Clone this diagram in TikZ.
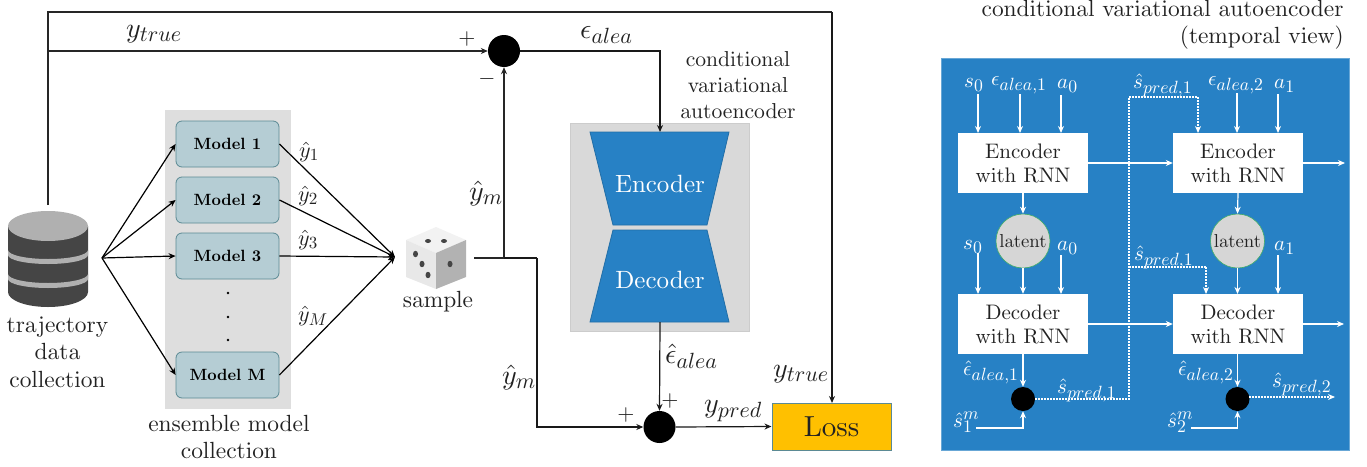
\documentclass[tikz,border=0pt]{standalone}
\usetikzlibrary{arrows.meta}
\DeclareFontShape{OML}{cmm}{m}{it}{<->cmmi10}{\skewchar\font127 }
\DeclareFontShape{OMS}{cmsy}{m}{n}{<->cmsy10}{\skewchar\font48 }
\DeclareFontShape{OT1}{cmr}{m}{n}{<->cmr10}{}
\DeclareFontShape{OT1}{cmr}{bx}{n}{<->cmbx10}{}
\renewcommand{\encodingdefault}{OT1}
\renewcommand{\rmdefault}{cmr}
\DeclareMathSizes{28}{28}{22}{17}
\DeclareMathSizes{22}{22}{17}{13}
\DeclareMathSizes{21}{21}{17.7}{13}
\definecolor{panelblue}{HTML}{2781C5}
\definecolor{modelfill}{HTML}{B5CDD4}
\definecolor{modeledge}{HTML}{5B8A94}
\definecolor{dbdark}{HTML}{454545}
\definecolor{dbgrey}{HTML}{B0B0B0}
\definecolor{ink}{HTML}{222222}
\definecolor{lossfill}{HTML}{FFC000}
\newcommand{\fsz}[1]{\fontsize{#1}{#1}\selectfont}
\tikzset{
  arrowtip/.style={-{Stealth[length=7pt,width=6pt]}},
  wire/.style={line width=1.2pt,black!90},
  hwire/.style={line width=1.7pt,black!85},
  fan/.style={line width=1.2pt,black,arrowtip},
  wwire/.style={line width=1.2pt,white,arrowtip},
  wdot/.style={line width=1.5pt,white,dash pattern=on 1.5pt off 1.5pt},
  model/.style={draw=modeledge,fill=modelfill,rounded corners=6pt,minimum width=103pt,minimum height=46pt,line width=.8pt,inner sep=0pt,font=\fsz{16.3}\bfseries},
  sumdot/.style={circle,fill=black,inner sep=0pt},
  wbox/.style={fill=white,minimum width=130pt,minimum height=60pt,inner sep=0pt,align=center,font=\fsz{21},text=ink},
  latentc/.style={circle,fill=black!16,draw=modeledge!70!green,line width=.6pt,minimum size=54pt,inner sep=0pt,font=\fsz{18.7},text=ink},
  lbl/.style={anchor=base west,inner sep=0pt,text=ink,font=\fsz{28}},
  slbl/.style={anchor=base west,inner sep=0pt,text=ink,font=\fsz{22}},
  plbl/.style={anchor=base west,inner sep=0pt,text=white,font=\fsz{21}},
  signtxt/.style={inner sep=0pt,text=ink,font=\fsz{22}},
  captxt/.style={inner sep=0pt,align=center,text=ink,font=\fsz{23.4}},
}
\begin{document}
\begin{tikzpicture}[x=1pt,y=-1pt]
\useasboundingbox (0,0) rectangle (1367,466);
% ---- backgrounds
\fill[black!13] (165,110) rectangle (291,409);
\fill[black!15,draw=black!20,line width=.8pt] (570,123) rectangle (749,331);
\fill[panelblue,draw=panelblue!70!white,line width=.8pt] (941,58) rectangle (1349,450);
% ---- database
\fill[dbdark] (8,226) -- (8,292) arc[start angle=180,end angle=0,x radius=40,y radius=15] -- (88,226) -- cycle;
\fill[dbgrey] (8,250) arc[start angle=180,end angle=0,x radius=40,y radius=9] -- (88,255) arc[start angle=0,end angle=180,x radius=40,y radius=9] -- cycle;
\fill[dbgrey] (8,274) arc[start angle=180,end angle=0,x radius=40,y radius=9] -- (88,279) arc[start angle=0,end angle=180,x radius=40,y radius=9] -- cycle;
\fill[dbgrey] (48,226) ellipse[x radius=40,y radius=15];
% ---- die
\fill[black!5] (406,240) -- (436,227) -- (466,240) -- (436,253) -- cycle;
\fill[black!9] (406,240) -- (436,253) -- (436,289) -- (406,277) -- cycle;
\fill[black!30] (466,240) -- (436,253) -- (436,289) -- (466,277) -- cycle;
\foreach \px/\py/\rx/\ry in {428/241/3/2,444/241/3/2,415.5/254/2.5/3.2,422/264/2.5/3.2,428/275/2.5/3.2,450/264/2.5/3.2}
  \fill[dbdark] (\px,\py) ellipse[x radius=\rx,y radius=\ry];
% ---- trapezia
\fill[panelblue,draw=panelblue!85!black,line width=.8pt] (590,132) -- (729,132) -- (707,225) -- (613,225) -- cycle;
\fill[panelblue,draw=panelblue!85!black,line width=.8pt] (613,230) -- (707,230) -- (729,322) -- (590,322) -- cycle;
\node[text=white,inner sep=0pt,font=\fsz{25}] (enc) at (660,184) {Encoder};
\node[text=white,inner sep=0pt,font=\fsz{25}] (dec) at (660,280) {Decoder};
\coordinate (enctop) at (660,132);
\coordinate (decbot) at (660,322);
% ---- models
\node[model] (m1) at (227.5,144) {Model 1};
\node[model] (m2) at (227.5,200) {Model 2};
\node[model] (m3) at (227.5,256) {Model 3};
\node[model] (mM) at (227.5,375) {Model M};
\foreach \py in {293,317,340}
  \fill[black] (228,\py) circle[radius=1.4];
% ---- sum nodes and loss
\node[sumdot,minimum size=32pt] (s1) at (504,51) {};
\node[sumdot,minimum size=32pt] (s2) at (659.5,427) {};
\node[draw=modeledge,fill=lossfill,line width=1pt,minimum width=119pt,minimum height=47pt,inner sep=0pt,font=\fsz{29},text=ink] (loss) at (831.5,426.5) {Loss};
% ---- free ends
\coordinate (dbtop) at (48,205);
\coordinate (src) at (102,258);
\coordinate (mrg) at (395,257);
\coordinate (smp) at (474,258);
\coordinate (jn) at (504,258);
\coordinate (tr) at (48,51);
% ---- main wires
\draw[hwire] (dbtop) -- (48,12) -- (832,12);
\draw[wire,arrowtip] (832,12) -- (832,403);
\draw[hwire,arrowtip] (tr) -- (s1.west);
\draw[hwire,arrowtip] (jn) -- (s1.south);
\draw[hwire] (smp) -- (jn);
\draw[wire] (jn) -- (537,258);
\draw[wire,arrowtip] (537,258) -- (537,427) -- (s2.west);
\draw[wire,arrowtip] (s1.east) -- (660,51) -- (enctop);
\draw[wire,arrowtip] (decbot) -- (s2.north);
\draw[wire,arrowtip] (s2.east) -- (loss.west);
\foreach \m in {m1,m2,m3,mM} {
  \draw[fan] (src) -- (\m.west);
  \draw[fan] (\m.east) -- (mrg);
}
% ---- panel
\node[wbox] (e1) at (1023,163) {Encoder\\[3.5pt]with RNN};
\node[wbox] (e2) at (1238,163) {Encoder\\[3.5pt]with RNN};
\node[wbox] (d1) at (1023,324) {Decoder\\[3.5pt]with RNN};
\node[wbox] (d2) at (1238,324) {Decoder\\[3.5pt]with RNN};
\node[latentc] (l1) at (1023,241) {latent};
\node[latentc] (l2) at (1237.5,241) {latent};
\node[sumdot,minimum size=24pt] (b1) at (1023,399) {};
\node[sumdot,minimum size=24pt] (b2) at (1237.5,399) {};
\foreach \nm/\px/\py/\qy in {a/978/94/133,b/1020/94/133,c/1061/95/133,d/1237/93/133,e/1278/94/133,f/978/253/294,g/1061/255/294,h/1278/255/294}{
  \coordinate (st\nm) at (\px,\py);
  \coordinate (en\nm) at (\px,\qy);
  \draw[wwire] (st\nm) -- (en\nm);
}
\coordinate (eo) at (1345,163);
\coordinate (do) at (1344,324);
\coordinate (ao) at (1129,97);
\coordinate (am) at (1129,267);
\coordinate (aa) at (1129,399);
\coordinate (s1m) at (976,428);
\coordinate (s2m) at (1191,428);
\coordinate (so) at (1335,397);
\draw[wdot] (b1.east) -- (aa) -- (ao) -- (1198,97);
\draw[wdot,arrowtip] (1198,97) -- (1198,133);
\draw[wdot] (am) -- (1206,267);
\draw[wdot,arrowtip] (1206,267) -- (1206,294);
\draw[wdot,arrowtip] (1249,397) -- (so);
\draw[wwire] (e1.east) -- (e2.west);
\draw[wwire] (e2.east) -- (eo);
\draw[wwire] (d1.east) -- (d2.west);
\draw[wwire] (d2.east) -- (do);
\draw[wwire] (e1.south) -- (l1.north);
\draw[wwire] (e2.south) -- (l2.north);
\draw[wwire] (l1.south) -- (d1.north);
\draw[wwire] (l2.south) -- (1237.5,294);
\draw[wwire] (d1.south) -- (b1.north);
\draw[wwire] (1237.5,354) -- (b2.north);
\draw[wwire] (s1m) -- (1023,428) -- (b1.south);
\draw[wwire] (s2m) -- (1237.5,428) -- (b2.south);
% ---- labels left
\node[lbl] (l01) at (126,37) {$y_{true}$};
\node[lbl] (l02) at (580,38) {$\epsilon_{alea}$};
\node[lbl] (l03) at (469,200) {$\hat{y}_m$};
\node[lbl] (l04) at (502,384) {$\hat{y}_m$};
\node[lbl] (l05) at (665,363) {$\hat{\epsilon}_{alea}$};
\node[lbl] (l06) at (773,377) {$y_{true}$};
\node[lbl] (l07) at (704,412) {$y_{pred}$};
\node[slbl] (l08) at (299,157) {$\hat{y}_1$};
\node[slbl] (l09) at (298,201) {$\hat{y}_2$};
\node[slbl] (l10) at (298,245) {$\hat{y}_3$};
\node[slbl] (l11) at (298,321) {$\hat{y}_M$};
\node[signtxt] (p1) at (467,39) {$+$};
\node[signtxt] (p2) at (487,79) {$-$};
\node[signtxt] (p3) at (670,401) {$+$};
\node[signtxt] (p4) at (626,415) {$+$};
\node[captxt] (cdb) at (57.5,352) {trajectory\\[4pt]data\\[4pt]collection};
\node[captxt] (cen) at (229,437) {ensemble model\\[4pt]collection};
\node[captxt] (csa) at (438,302) {sample};
\node[captxt,font=\fsz{21.6}] (ccv) at (738,85) {conditional\\[4.4pt]variational\\[4.4pt]autoencoder};
\node[captxt,align=right,anchor=north east] (cti) at (1344,0) {conditional variational autoencoder\\[3.6pt](temporal view)};
% ---- labels panel
\node[plbl] (q01) at (964,87) {$s_0$};
\node[plbl] (q02) at (991,85) {$\epsilon_{alea,1}$};
\node[plbl] (q03) at (1057,88) {$a_0$};
\node[plbl] (q04) at (1133,88) {$\hat{s}_{pred,1}$};
\node[plbl] (q05) at (1208,85) {$\epsilon_{alea,2}$};
\node[plbl] (q06) at (1274,88) {$a_1$};
\node[plbl] (q07) at (963,249) {$s_0$};
\node[plbl] (q08) at (1057,250) {$a_0$};
\node[plbl] (q09) at (1134,260) {$\hat{s}_{pred,1}$};
\node[plbl] (q10) at (1274,250) {$a_1$};
\node[plbl] (q11) at (963,375) {$\hat{\epsilon}_{alea,1}$};
\node[plbl] (q12) at (1178,375) {$\hat{\epsilon}_{alea,2}$};
\node[plbl] (q13) at (1057,393) {$\hat{s}_{pred,1}$};
\node[plbl] (q14) at (1272,387) {$\hat{s}_{pred,2}$};
\node[plbl] (q15) at (953,427) {$\hat{s}_1^m$};
\node[plbl] (q16) at (1167,427) {$\hat{s}_2^m$};
\end{tikzpicture}
\end{document}
